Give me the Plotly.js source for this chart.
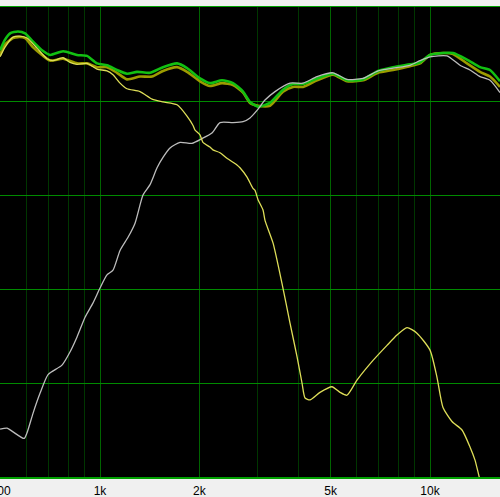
<!DOCTYPE html>
<html>
<head>
<meta charset="utf-8">
<script src="https://cdn.plot.ly/plotly-3.0.1.min.js"></script>
<style>html,body{margin:0;padding:0;background:#f0f0f0;}#chart{width:500px;height:497px;}</style>
</head>
<body>
<div id="chart"></div>
<script>
// Frequencies in Hz, levels in dB
var greenFreq = [498,515,534,564,593,627,667,706,773,852,913,979,1050,1126,1207,1295,1418,1552,1712,1835,2009,2154,2343,2529,2713,2848,3012,3274,3585,3844,4124,4546,5083,5604,6266,6958,7726,8697,9326,10000,10949,11740,12945,14175,15199,16298];
var greenDb   = [95.4,96.5,97.2,97.4,97.2,96.3,95.4,94.9,95.3,94.9,94.8,94.0,93.8,93.3,92.9,93.1,93.0,93.6,94.0,93.5,92.4,91.9,92.2,91.9,91.0,89.9,89.4,89.8,91.2,91.8,91.8,92.4,92.9,92.2,92.3,93.2,93.6,93.9,94.1,94.9,95.1,95.1,94.4,93.6,93.3,92.1];

var sumFreq = [498,515,545,564,593,627,667,706,773,852,913,979,1050,1126,1207,1322,1438,1552,1712,1835,2009,2154,2343,2529,2713,2848,3012,3274,3585,3844,4124,4546,5083,5604,6266,6958,7726,8697,9326,10000,10949,11740,12945,14175,15199,16298];
var sumDb   = [94.9,96.0,96.7,96.8,96.7,95.7,94.9,94.3,94.5,94.0,94.0,93.6,93.6,93.0,92.3,92.6,92.6,93.2,93.6,93.1,92.1,91.6,91.9,91.7,90.9,89.8,89.5,89.5,91.0,91.5,91.5,92.2,92.8,92.1,92.2,93.0,93.3,93.7,94.0,94.9,95.1,95.0,94.0,93.1,92.6,91.5];

var wooferFreq = [498,515,545,572,601,645,691,720,773,811,852,913,979,1050,1095,1150,1207,1322,1438,1552,1712,1835,1914,1941,2009,2051,2154,2199,2310,2425,2601,2656,2790,2908,2949,3012,3119,3162,3344,3560,3764,3954,4094,4182,4329,4642,5047,5337,5604,6008,6720,7408,7943,8517,9129,10000,10500,10949,11659,12502,13219,13690,14077,14475];
var wooferDb   = [94.7,95.7,96.8,96.9,96.7,95.6,94.5,94.3,94.6,94.1,93.9,94.0,93.4,93.2,92.8,91.9,91.3,91.0,90.2,89.9,89.6,88.4,87.4,86.9,86.4,85.6,85.1,84.8,84.5,83.9,83.2,82.9,81.9,80.7,80.5,79.5,78.4,77.3,74.9,70.6,66.4,62.8,60.0,58.4,58.2,59.0,59.6,59.0,58.7,60.3,62.4,64.0,65.1,65.9,65.3,63.5,60.6,57.4,55.9,55.0,53.2,51.8,50.1,48.6];

var tweeterFreq = [498,523,545,589,601,627,658,696,767,811,852,901,952,1000,1050,1095,1150,1216,1277,1350,1418,1489,1552,1630,1748,1900,2037,2184,2310,2529,2713,2848,2991,3162,3391,3764,4124,4546,5083,5604,6266,6958,7726,8697,9326,10000,11258,12328,13219,14175,15199,16298];
var tweeterDb   = [55.1,55.2,54.8,54.1,54.7,56.8,58.9,60.9,61.9,63.3,64.9,67.0,68.5,70.1,71.5,72.0,74.1,75.5,77.0,80.0,81.1,82.9,84.0,85.0,85.6,85.5,86.0,86.6,87.7,87.7,87.8,88.2,89.0,90.1,91.0,91.9,91.9,92.6,93.0,92.3,92.4,93.2,93.5,93.8,94.3,94.7,94.8,93.8,93.3,92.6,92.2,90.9];

var majorTicks = [500,1000,2000,5000,10000];
var majorLabels = ['500','1k','2k','5k','10k'];
var minorTicks = [600,700,800,900,3000,4000,6000,7000,8000,9000];

var traces = [
  {x: sumFreq, y: sumDb, mode:'lines', line:{color:'#9c9c00', width:2.6, shape:'spline', smoothing:0.6}, hoverinfo:'skip'},
  {x: greenFreq, y: greenDb, mode:'lines', line:{color:'#12c012', width:2.6, shape:'spline', smoothing:0.6}, hoverinfo:'skip'},
  {x: tweeterFreq, y: tweeterDb, mode:'lines', line:{color:'#bdbdbd', width:1.3, shape:'spline', smoothing:0.6}, hoverinfo:'skip'},
  {x: wooferFreq, y: wooferDb, mode:'lines', line:{color:'#dede58', width:1.3, shape:'spline', smoothing:0.6}, hoverinfo:'skip'}
];

var layout = {
  width: 500, height: 497,
  margin: {l:0, r:0, t:7, b:20, pad:0},
  paper_bgcolor: '#f0f0f0',
  plot_bgcolor: '#000000',
  showlegend: false,
  xaxis: {
    type:'log',
    range:[Math.log10(497.7), Math.log10(16298)],
    tickmode:'array', tickvals: majorTicks, ticktext: majorLabels,
    ticklabeloverflow:'allow', ticklabelstandoff:2,
    showgrid:true, gridcolor:'#006400', gridwidth:1,
    minor:{tickmode:'array', tickvals: minorTicks, showgrid:true, gridcolor:'#003600', gridwidth:1, ticks:''},
    ticks:'', showline:true, mirror:true, linecolor:'#00a000', linewidth:1.5,
    zeroline:false,
    tickfont:{family:'Liberation Sans, Arial, sans-serif', size:12, color:'#000000'},
    fixedrange:true
  },
  yaxis: {
    range:[50,100], dtick:10, tick0:50,
    showgrid:true, gridcolor:'#008a00', gridwidth:1,
    showticklabels:false, ticks:'', zeroline:false, showline:false,
    fixedrange:true
  }
};

Plotly.newPlot('chart', traces, layout, {displayModeBar:false, staticPlot:true});
</script>
</body>
</html>
